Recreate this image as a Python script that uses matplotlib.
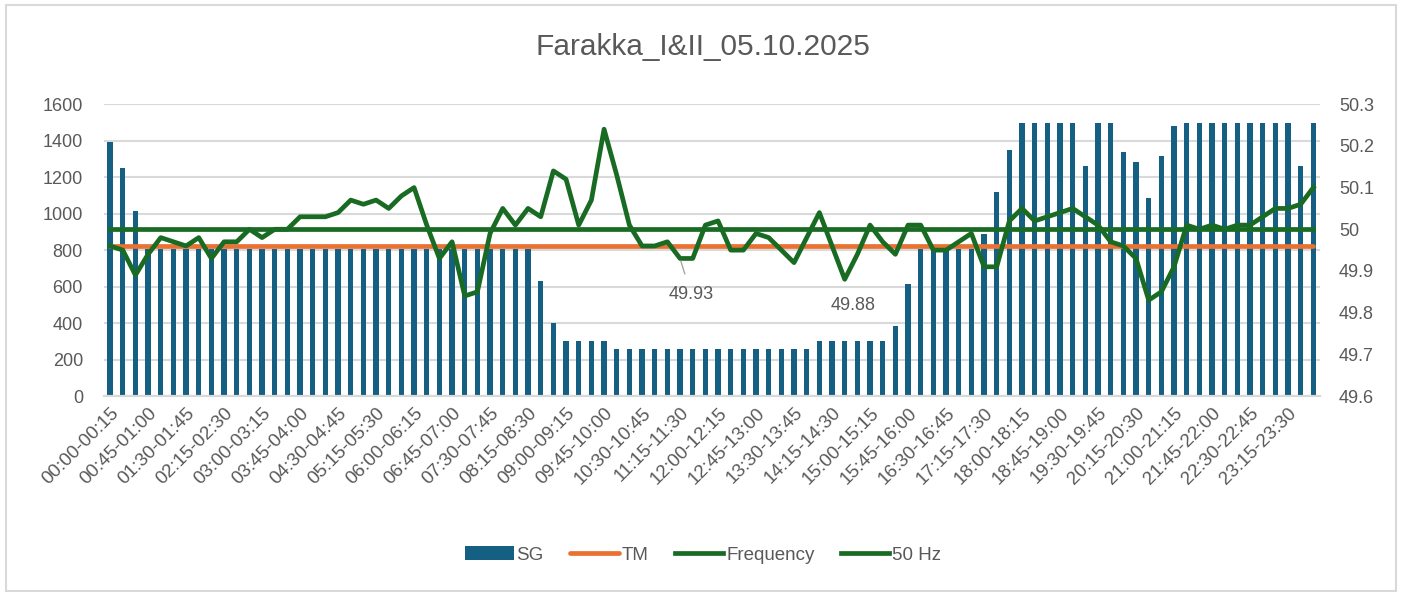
import matplotlib
matplotlib.use('Agg')
import matplotlib.pyplot as plt
from matplotlib.ticker import FuncFormatter
from matplotlib.patches import Rectangle

# 15-minute time blocks for the day
blocks = ['%02d:%02d-%02d:%02d' % (i * 15 // 60, i * 15 % 60, (i + 1) * 15 // 60, (i + 1) * 15 % 60)
          for i in range(96)]

# Schedule (MW)
sg = [1390, 1250, 1015, 805, 805, 805, 805, 805, 805, 805,
      805, 805, 805, 805, 805, 805, 805, 805, 805, 805,
      805, 805, 805, 805, 805, 805, 805, 805, 805, 805,
      805, 805, 805, 805, 630, 400, 300, 300, 300, 300,
      260, 260, 260, 260, 260, 260, 260, 260, 260, 260,
      260, 260, 260, 260, 260, 260, 300, 300, 300, 300,
      300, 300, 385, 617, 805, 805, 805, 805, 805, 888,
      1120, 1350, 1495, 1495, 1495, 1495, 1495, 1260, 1495, 1495,
      1340, 1285, 1087, 1317, 1480, 1495, 1495, 1495, 1495, 1495,
      1495, 1495, 1495, 1495, 1260, 1495]

# Technical minimum
tm = [822] * 96

# Grid frequency (Hz)
freq = [49.96, 49.95, 49.89, 49.94, 49.98, 49.97, 49.96, 49.98, 49.93, 49.97,
        49.97, 50.00, 49.98, 50.00, 50.00, 50.03, 50.03, 50.03, 50.04, 50.07,
        50.06, 50.07, 50.05, 50.08, 50.10, 50.01, 49.93, 49.97, 49.84, 49.85,
        49.99, 50.05, 50.01, 50.05, 50.03, 50.14, 50.12, 50.01, 50.07, 50.24,
        50.13, 50.01, 49.96, 49.96, 49.97, 49.93, 49.93, 50.01, 50.02, 49.95,
        49.95, 49.99, 49.98, 49.95, 49.92, 49.98, 50.04, 49.96, 49.88, 49.94,
        50.01, 49.97, 49.94, 50.01, 50.01, 49.95, 49.95, 49.97, 49.99, 49.91,
        49.91, 50.02, 50.05, 50.02, 50.03, 50.04, 50.05, 50.03, 50.01, 49.97,
        49.96, 49.93, 49.83, 49.85, 49.91, 50.01, 50.00, 50.01, 50.00, 50.01,
        50.01, 50.03, 50.05, 50.05, 50.06, 50.10]

nominal = [50.0] * 96

# labelled points
labelled = [45, 58]

BLUE = '#156082'
ORANGE = '#E97132'
GREEN = '#196B24'
TEXT = '#595959'
GRID = '#d9d9d9'
FONT = 'Liberation Sans'

fig = plt.figure(figsize=(14.06, 5.92), dpi=100)
ax = fig.add_axes([0.0738, 0.331, 0.8648, 0.493])
ax2 = ax.twinx()

x = list(range(len(blocks)))
sg_bars = ax.bar(x, sg, width=0.42, color=BLUE, label='SG', zorder=2)
tm_line, = ax.plot(x, tm, color=ORANGE, lw=3.4, label='TM', zorder=3, solid_capstyle='round')
f_line, = ax2.plot(x, freq, color=GREEN, lw=3.4, label='Frequency', zorder=3, solid_joinstyle='round')
n_line, = ax2.plot(x, nominal, color=GREEN, lw=3.4, label='50 Hz', zorder=4)

ax.set_xlim(-0.5, 95.5)
ax.set_ylim(0, 1600)
ax.set_yticks(range(0, 1601, 200))
ax2.set_ylim(49.6, 50.3)
ax2.set_yticks([49.6, 49.7, 49.8, 49.9, 50.0, 50.1, 50.2, 50.3])
ax2.yaxis.set_major_formatter(FuncFormatter(lambda v, p: '%g' % round(v, 1)))

ax.grid(axis='y', color=GRID, lw=1.5, zorder=0)
ax.set_axisbelow(True)
for a in (ax, ax2):
    for s in ('left', 'right', 'top'):
        a.spines[s].set_visible(False)
    a.spines['bottom'].set_color(GRID)
    a.spines['bottom'].set_linewidth(1.5)
    a.tick_params(length=0, colors=TEXT)

ax.set_xticks(x[::3])
ax.set_xticklabels(blocks[::3], rotation=45, ha='right', rotation_mode='anchor',
                   family=FONT, fontsize=13.5, color=TEXT)
ax.tick_params(axis='x', pad=6)
ax.tick_params(axis='y', labelsize=13, pad=15)
ax2.tick_params(axis='y', labelsize=13, pad=14)
for lab in ax.get_yticklabels() + ax2.get_yticklabels():
    lab.set_family(FONT)

# data labels on the frequency dips
offs = {45: (8, -26), 58: (6, -19)}
for i in labelled:
    ax2.annotate('%.2f' % freq[i], xy=(i, freq[i]), xytext=offs[i], textcoords='offset points',
                 ha='center', va='center', fontsize=13, color=TEXT, family=FONT,
                 arrowprops=dict(arrowstyle='-', color='#a6a6a6', lw=1, shrinkA=7, shrinkB=2)
                 if i == 45 else None)

fig.text(0.5, 0.92, 'Farakka_I&II_05.10.2025', ha='center', va='center',
         fontsize=21.5, color=TEXT, family=FONT)

fig.legend([sg_bars, tm_line, f_line, n_line], ['SG', 'TM', 'Frequency', '50 Hz'],
           ncol=4, loc='center', bbox_to_anchor=(0.5, 0.0625), frameon=False,
           prop={'family': FONT, 'size': 13.5}, handlelength=2.6,
           handletextpad=0.15, columnspacing=1.4, labelcolor=TEXT)

fig.patches.append(Rectangle((0.0046, 0.0017), 0.9886, 0.99, transform=fig.transFigure,
                             fill=False, edgecolor=GRID, lw=1.5))

fig.savefig('out.png', dpi=100)
